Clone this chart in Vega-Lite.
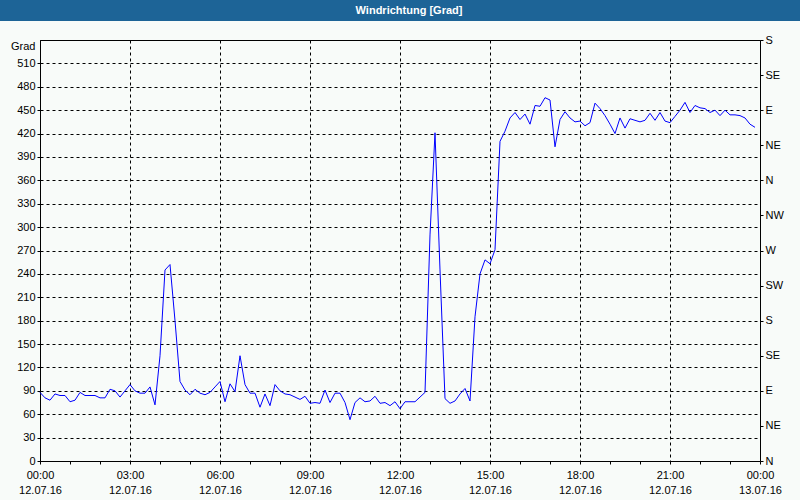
{
  "$schema": "https://vega.github.io/schema/vega-lite/v6.json",
  "background": "#f8fbf9",
  "padding": {"left": 0, "top": 0, "right": 0, "bottom": 19},
  "spacing": 19,
  "bounds": "flush",
  "center": true,
  "config": {
    "font": "Liberation Sans",
    "view": {"stroke": null},
    "axis": {
      "labelFont": "Liberation Sans",
      "labelFontSize": 11,
      "labelColor": "#000000",
      "tickColor": "#000000",
      "domainColor": "#000000",
      "tickSize": 3,
      "gridColor": "#000000",
      "gridDash": [3, 3],
      "gridOpacity": 1,
      "gridWidth": 1
    }
  },
  "vconcat": [
    {
      "width": 800,
      "height": 21,
      "view": {"fill": "#1d6497", "stroke": null},
      "data": {"values": [{"label": "Windrichtung [Grad]"}]},
      "mark": {"type": "text", "color": "#ffffff", "font": "Liberation Sans", "fontSize": 11, "fontWeight": "bold", "dx": 9},
      "encoding": {"text": {"field": "label"}}
    },
    {
      "width": 720,
      "height": 421,
      "view": {"stroke": "#000000", "strokeWidth": 1, "fill": "#f8fbf9"},
      "data": {"values": [
        {"t": "2016-07-12T00:00", "v": 88}, {"t": "2016-07-12T00:10", "v": 81}, {"t": "2016-07-12T00:20", "v": 78}, {"t": "2016-07-12T00:30", "v": 86}, {"t": "2016-07-12T00:40", "v": 84}, {"t": "2016-07-12T00:50", "v": 84},
        {"t": "2016-07-12T01:00", "v": 76}, {"t": "2016-07-12T01:10", "v": 78}, {"t": "2016-07-12T01:20", "v": 88}, {"t": "2016-07-12T01:30", "v": 84}, {"t": "2016-07-12T01:40", "v": 84}, {"t": "2016-07-12T01:50", "v": 84},
        {"t": "2016-07-12T02:00", "v": 81}, {"t": "2016-07-12T02:10", "v": 81}, {"t": "2016-07-12T02:20", "v": 92}, {"t": "2016-07-12T02:30", "v": 90}, {"t": "2016-07-12T02:40", "v": 82}, {"t": "2016-07-12T02:50", "v": 90},
        {"t": "2016-07-12T03:00", "v": 98}, {"t": "2016-07-12T03:10", "v": 90}, {"t": "2016-07-12T03:20", "v": 87}, {"t": "2016-07-12T03:30", "v": 87}, {"t": "2016-07-12T03:40", "v": 95}, {"t": "2016-07-12T03:50", "v": 72},
        {"t": "2016-07-12T04:00", "v": 135}, {"t": "2016-07-12T04:10", "v": 245}, {"t": "2016-07-12T04:20", "v": 252}, {"t": "2016-07-12T04:30", "v": 180}, {"t": "2016-07-12T04:40", "v": 102}, {"t": "2016-07-12T04:50", "v": 91},
        {"t": "2016-07-12T05:00", "v": 85}, {"t": "2016-07-12T05:10", "v": 92}, {"t": "2016-07-12T05:20", "v": 87}, {"t": "2016-07-12T05:30", "v": 85}, {"t": "2016-07-12T05:40", "v": 88}, {"t": "2016-07-12T05:50", "v": 95},
        {"t": "2016-07-12T06:00", "v": 102}, {"t": "2016-07-12T06:10", "v": 76}, {"t": "2016-07-12T06:20", "v": 99}, {"t": "2016-07-12T06:30", "v": 89}, {"t": "2016-07-12T06:40", "v": 135}, {"t": "2016-07-12T06:50", "v": 98},
        {"t": "2016-07-12T07:00", "v": 87}, {"t": "2016-07-12T07:10", "v": 87}, {"t": "2016-07-12T07:20", "v": 69}, {"t": "2016-07-12T07:30", "v": 86}, {"t": "2016-07-12T07:40", "v": 71}, {"t": "2016-07-12T07:50", "v": 98},
        {"t": "2016-07-12T08:00", "v": 90}, {"t": "2016-07-12T08:10", "v": 86}, {"t": "2016-07-12T08:20", "v": 85}, {"t": "2016-07-12T08:30", "v": 82}, {"t": "2016-07-12T08:40", "v": 79}, {"t": "2016-07-12T08:50", "v": 83},
        {"t": "2016-07-12T09:00", "v": 74}, {"t": "2016-07-12T09:10", "v": 75}, {"t": "2016-07-12T09:20", "v": 74}, {"t": "2016-07-12T09:30", "v": 91}, {"t": "2016-07-12T09:40", "v": 75}, {"t": "2016-07-12T09:50", "v": 87},
        {"t": "2016-07-12T10:00", "v": 87}, {"t": "2016-07-12T10:10", "v": 75}, {"t": "2016-07-12T10:20", "v": 53}, {"t": "2016-07-12T10:30", "v": 75}, {"t": "2016-07-12T10:40", "v": 81}, {"t": "2016-07-12T10:50", "v": 76},
        {"t": "2016-07-12T11:00", "v": 77}, {"t": "2016-07-12T11:10", "v": 83}, {"t": "2016-07-12T11:20", "v": 74}, {"t": "2016-07-12T11:30", "v": 75}, {"t": "2016-07-12T11:40", "v": 71}, {"t": "2016-07-12T11:50", "v": 76},
        {"t": "2016-07-12T12:00", "v": 67}, {"t": "2016-07-12T12:10", "v": 76}, {"t": "2016-07-12T12:20", "v": 76}, {"t": "2016-07-12T12:30", "v": 76}, {"t": "2016-07-12T12:40", "v": 82}, {"t": "2016-07-12T12:50", "v": 88},
        {"t": "2016-07-12T13:00", "v": 290}, {"t": "2016-07-12T13:10", "v": 421}, {"t": "2016-07-12T13:20", "v": 245}, {"t": "2016-07-12T13:30", "v": 80}, {"t": "2016-07-12T13:40", "v": 74}, {"t": "2016-07-12T13:50", "v": 77},
        {"t": "2016-07-12T14:00", "v": 86}, {"t": "2016-07-12T14:10", "v": 93}, {"t": "2016-07-12T14:20", "v": 77}, {"t": "2016-07-12T14:30", "v": 185}, {"t": "2016-07-12T14:40", "v": 240}, {"t": "2016-07-12T14:50", "v": 258},
        {"t": "2016-07-12T15:00", "v": 253}, {"t": "2016-07-12T15:10", "v": 271}, {"t": "2016-07-12T15:20", "v": 410}, {"t": "2016-07-12T15:30", "v": 423}, {"t": "2016-07-12T15:40", "v": 440}, {"t": "2016-07-12T15:50", "v": 447},
        {"t": "2016-07-12T16:00", "v": 438}, {"t": "2016-07-12T16:10", "v": 445}, {"t": "2016-07-12T16:20", "v": 432}, {"t": "2016-07-12T16:30", "v": 456}, {"t": "2016-07-12T16:40", "v": 455}, {"t": "2016-07-12T16:50", "v": 466},
        {"t": "2016-07-12T17:00", "v": 463}, {"t": "2016-07-12T17:10", "v": 403}, {"t": "2016-07-12T17:20", "v": 438}, {"t": "2016-07-12T17:30", "v": 448}, {"t": "2016-07-12T17:40", "v": 440}, {"t": "2016-07-12T17:50", "v": 435},
        {"t": "2016-07-12T18:00", "v": 436}, {"t": "2016-07-12T18:10", "v": 430}, {"t": "2016-07-12T18:20", "v": 434}, {"t": "2016-07-12T18:30", "v": 459}, {"t": "2016-07-12T18:40", "v": 452}, {"t": "2016-07-12T18:50", "v": 443},
        {"t": "2016-07-12T19:00", "v": 432}, {"t": "2016-07-12T19:10", "v": 420}, {"t": "2016-07-12T19:20", "v": 440}, {"t": "2016-07-12T19:30", "v": 427}, {"t": "2016-07-12T19:40", "v": 439}, {"t": "2016-07-12T19:50", "v": 437},
        {"t": "2016-07-12T20:00", "v": 435}, {"t": "2016-07-12T20:10", "v": 437}, {"t": "2016-07-12T20:20", "v": 446}, {"t": "2016-07-12T20:30", "v": 437}, {"t": "2016-07-12T20:40", "v": 447}, {"t": "2016-07-12T20:50", "v": 436},
        {"t": "2016-07-12T21:00", "v": 434}, {"t": "2016-07-12T21:10", "v": 442}, {"t": "2016-07-12T21:20", "v": 450}, {"t": "2016-07-12T21:30", "v": 460}, {"t": "2016-07-12T21:40", "v": 447}, {"t": "2016-07-12T21:50", "v": 456},
        {"t": "2016-07-12T22:00", "v": 453}, {"t": "2016-07-12T22:10", "v": 452}, {"t": "2016-07-12T22:20", "v": 447}, {"t": "2016-07-12T22:30", "v": 450}, {"t": "2016-07-12T22:40", "v": 443}, {"t": "2016-07-12T22:50", "v": 450},
        {"t": "2016-07-12T23:00", "v": 444}, {"t": "2016-07-12T23:10", "v": 444}, {"t": "2016-07-12T23:20", "v": 443}, {"t": "2016-07-12T23:30", "v": 440}, {"t": "2016-07-12T23:40", "v": 432}, {"t": "2016-07-12T23:50", "v": 428}
      ]},
      "layer": [
        {
          "mark": {"type": "line", "color": "#0000ff", "strokeWidth": 1, "interpolate": "linear"},
          "encoding": {
            "x": {
              "field": "t", "type": "temporal",
              "scale": {"domain": [{"year": 2016, "month": 7, "date": 12, "hours": 0}, {"year": 2016, "month": 7, "date": 13, "hours": 0}]},
              "axis": {
                "orient": "bottom",
                "title": null,
                "domain": false,
                "values": [
                  {"year": 2016, "month": 7, "date": 12, "hours": 0}, {"year": 2016, "month": 7, "date": 12, "hours": 1}, {"year": 2016, "month": 7, "date": 12, "hours": 2},
                  {"year": 2016, "month": 7, "date": 12, "hours": 3}, {"year": 2016, "month": 7, "date": 12, "hours": 4}, {"year": 2016, "month": 7, "date": 12, "hours": 5},
                  {"year": 2016, "month": 7, "date": 12, "hours": 6}, {"year": 2016, "month": 7, "date": 12, "hours": 7}, {"year": 2016, "month": 7, "date": 12, "hours": 8},
                  {"year": 2016, "month": 7, "date": 12, "hours": 9}, {"year": 2016, "month": 7, "date": 12, "hours": 10}, {"year": 2016, "month": 7, "date": 12, "hours": 11},
                  {"year": 2016, "month": 7, "date": 12, "hours": 12}, {"year": 2016, "month": 7, "date": 12, "hours": 13}, {"year": 2016, "month": 7, "date": 12, "hours": 14},
                  {"year": 2016, "month": 7, "date": 12, "hours": 15}, {"year": 2016, "month": 7, "date": 12, "hours": 16}, {"year": 2016, "month": 7, "date": 12, "hours": 17},
                  {"year": 2016, "month": 7, "date": 12, "hours": 18}, {"year": 2016, "month": 7, "date": 12, "hours": 19}, {"year": 2016, "month": 7, "date": 12, "hours": 20},
                  {"year": 2016, "month": 7, "date": 12, "hours": 21}, {"year": 2016, "month": 7, "date": 12, "hours": 22}, {"year": 2016, "month": 7, "date": 12, "hours": 23},
                  {"year": 2016, "month": 7, "date": 13, "hours": 0}
                ],
                "labelExpr": "hours(datum.value) % 3 == 0 ? timeFormat(datum.value, '%H:%M') : ''",
                "labelOverlap": false,
                "labelFlush": false,
                "labelPadding": 5,
                "labelBaseline": "top",
                "grid": true,
                "gridOpacity": {"condition": {"test": "hours(datum.value) % 3 != 0", "value": 0}, "value": 1}
              }
            },
            "y": {
              "field": "v", "type": "quantitative",
              "scale": {"domain": [0, 540], "nice": false, "zero": false},
              "axis": {
                "orient": "left",
                "title": null,
                "domain": false,
                "values": [0, 30, 60, 90, 120, 150, 180, 210, 240, 270, 300, 330, 360, 390, 420, 450, 480, 510, 540],
                "labelExpr": "datum.value == 540 ? 'Grad' : datum.label",
                "labelBaseline": {"condition": {"test": "datum.value == 540", "value": "top"}, "value": "middle"},
                "tickOpacity": {"condition": {"test": "datum.value == 540", "value": 0}, "value": 1},
                "labelOverlap": false,
                "labelPadding": 2,
                "grid": true
              }
            }
          }
        },
        {
          "mark": {"type": "line", "opacity": 0},
          "encoding": {
            "x": {
              "field": "t", "type": "temporal",
              "scale": {"domain": [{"year": 2016, "month": 7, "date": 12, "hours": 0}, {"year": 2016, "month": 7, "date": 13, "hours": 0}]},
              "axis": {
                "orient": "bottom",
                "offset": 20,
                "title": null,
                "domain": false,
                "ticks": false,
                "grid": false,
                "values": [
                  {"year": 2016, "month": 7, "date": 12, "hours": 0}, {"year": 2016, "month": 7, "date": 12, "hours": 3}, {"year": 2016, "month": 7, "date": 12, "hours": 6},
                  {"year": 2016, "month": 7, "date": 12, "hours": 9}, {"year": 2016, "month": 7, "date": 12, "hours": 12}, {"year": 2016, "month": 7, "date": 12, "hours": 15},
                  {"year": 2016, "month": 7, "date": 12, "hours": 18}, {"year": 2016, "month": 7, "date": 12, "hours": 21}, {"year": 2016, "month": 7, "date": 13, "hours": 0}
                ],
                "labelExpr": "timeFormat(datum.value, '%d.%m.%y')",
                "labelOverlap": false,
                "labelFlush": false,
                "labelPadding": 3,
                "labelBaseline": "top"
              }
            },
            "y": {
              "field": "v", "type": "quantitative",
              "scale": {"domain": [0, 540], "nice": false, "zero": false},
              "axis": {
                "orient": "right",
                "title": null,
                "domain": false,
                "grid": false,
                "values": [0, 45, 90, 135, 180, 225, 270, 315, 360, 405, 450, 495, 540],
                "labelExpr": "['N','NE','E','SE','S','SW','W','NW','N','NE','E','SE','S'][round(datum.value / 45)]",
                "labelOverlap": false,
                "labelPadding": 2
              }
            }
          }
        }
      ],
      "resolve": {"axis": {"x": "independent", "y": "independent"}}
    }
  ]
}
